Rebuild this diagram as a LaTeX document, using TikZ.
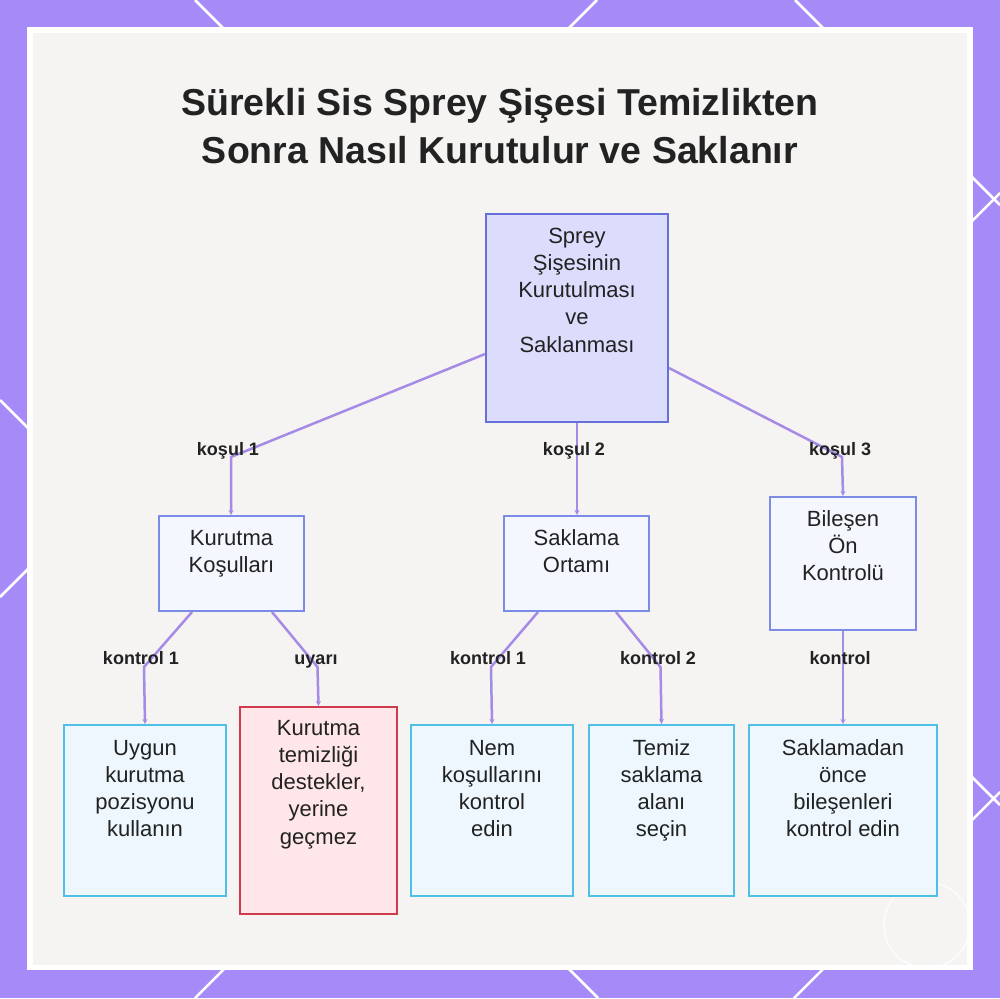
\documentclass[tikz,border=0pt]{standalone}
\usepackage{fontspec}
\setmainfont{Liberation Sans}
\usetikzlibrary{arrows.meta}
\definecolor{bgpurple}{HTML}{A68BF8}
\definecolor{panel}{HTML}{F5F4F3}
\definecolor{rootfill}{HTML}{DCDDFC}
\definecolor{rootdraw}{HTML}{6670D8}
\definecolor{midfill}{HTML}{F5F7FF}
\definecolor{middraw}{HTML}{7C8CE6}
\definecolor{leaffill}{HTML}{EDF7FD}
\definecolor{leafdraw}{HTML}{4EC0E6}
\definecolor{warnfill}{HTML}{FFE6E9}
\definecolor{warndraw}{HTML}{D03A4F}
\definecolor{conncol}{HTML}{A68BE6}
\definecolor{ink}{HTML}{222222}
\tikzset{
 box/.style={draw, line width=2pt, inner sep=0pt, anchor=north west},
 rootbox/.style={box, fill=rootfill, draw=rootdraw},
 midbox/.style={box, fill=midfill, draw=middraw},
 leafbox/.style={box, fill=leaffill, draw=leafdraw},
 warnbox/.style={box, fill=warnfill, draw=warndraw},
 boxtext/.style={anchor=base, align=center, font=\fontsize{22}{27.3}\selectfont, text=ink, inner sep=0pt},
 conn/.style={draw=conncol, line width=2.5pt, line join=round, -{Stealth[length=5pt,width=5pt]}},
 elabel/.style={font=\bfseries\fontsize{18}{22}\selectfont, text=ink, anchor=base, inner sep=0pt},
 deco/.style={white, line width=2.5pt},
 titletext/.style={font=\bfseries\fontsize{37.5}{48}\selectfont, align=center, anchor=base, text=ink, inner sep=0pt}
}
\begin{document}
\begin{tikzpicture}[x=1pt,y=-1pt]
\useasboundingbox (0,0) rectangle (1000,998);
\fill[bgpurple] (0,0) rectangle (1000,998);
\begin{scope}
\clip (0,0) rectangle (1000,998);
\draw[deco] (0,400) -- (598,998);
\draw[deco] (195,0) -- (1000,805);
\draw[deco] (795,0) -- (1000,205);
\draw[deco] (597,0) -- (0,597);
\draw[deco] (1000,193) -- (195,998);
\draw[deco] (1000,792) -- (794,998);
\end{scope}
\fill[white] (27,27) rectangle (973,970);
\fill[panel] (33,33) rectangle (967,965);
\draw[white, opacity=0.8, line width=1.5pt] (927,925) circle (43);

\node[titletext] (title) at (500,163) {Sürekli Sis Sprey Şişesi Temizlikten\\Sonra Nasıl Kurutulur ve Saklanır};

% boxes
\node[rootbox, minimum width=182, minimum height=208] (root) at (485,213) {};
\node[midbox, minimum width=145, minimum height=95] (kur) at (158,515) {};
\node[midbox, minimum width=145, minimum height=95] (sak) at (503,515) {};
\node[midbox, minimum width=146, minimum height=133] (bil) at (769,496) {};
\node[leafbox, minimum width=162, minimum height=171] (uyg) at (63,724) {};
\node[warnbox, minimum width=157, minimum height=207] (warn) at (239,706) {};
\node[leafbox, minimum width=162, minimum height=171] (nem) at (410,724) {};
\node[leafbox, minimum width=145, minimum height=171] (tem) at (588,724) {};
\node[leafbox, minimum width=188, minimum height=171] (skl) at (748,724) {};

% box texts (anchor = baseline of last line)
\node[boxtext] (roott) at ([yshift=-139.2pt]root.north) {Sprey\\Şişesinin\\Kurutulması\\ve\\Saklanması};
\node[boxtext] (kurt) at ([yshift=-57.3pt]kur.north) {Kurutma\\Koşulları};
\node[boxtext] (sakt) at ([yshift=-57.3pt]sak.north) {Saklama\\Ortamı};
\node[boxtext] (bilt) at ([yshift=-84.6pt]bil.north) {Bileşen\\Ön\\Kontrolü};
\node[boxtext] (uygt) at ([yshift=-112.9pt]uyg.north) {Uygun\\kurutma\\pozisyonu\\kullanın};
\node[boxtext] (warnt) at ([yshift=-138.2pt]warn.north) {Kurutma\\temizliği\\destekler,\\yerine\\geçmez};
\node[boxtext] (nemt) at ([yshift=-112.9pt]nem.north) {Nem\\koşullarını\\kontrol\\edin};
\node[boxtext] (temt) at ([yshift=-112.9pt]tem.north) {Temiz\\saklama\\alanı\\seçin};
\node[boxtext] (sklt) at ([yshift=-112.9pt]skl.north) {Saklamadan\\önce\\bileşenleri\\kontrol edin};

% connectors
\coordinate (b1) at (231,457);
\coordinate (b3) at (842,457);
\coordinate (c1) at (144,667);
\coordinate (c2) at (317.5,667);
\coordinate (c3) at (491,667);
\coordinate (c4) at (660.5,667);
\draw[conn] ([yshift=-36pt]root.west) -- (b1) -- (kur.north -| b1);
\draw[conn] (root.south) -- (sak.north -| root.south);
\draw[conn] ([yshift=-50pt]root.east) -- (b3) -- (bil.north);
\draw[conn] ([xshift=-39.5pt]kur.south) -- (c1) -- (uyg.north);
\draw[conn] ([xshift=40.5pt]kur.south) -- (c2) -- (warn.north);
\draw[conn] ([xshift=-38.5pt]sak.south) -- (c3) -- (nem.north);
\draw[conn] ([xshift=39.5pt]sak.south) -- (c4) -- (tem.north);
\draw[conn] (bil.south) -- (skl.north);

% edge labels
\node[elabel] (l1) at (228,455) {koşul 1};
\node[elabel] (l2) at (574,455) {koşul 2};
\node[elabel] (l3) at (840,455) {koşul 3};
\node[elabel] (l4) at (141,664) {kontrol 1};
\node[elabel] (l5) at (316,664) {uyarı};
\node[elabel] (l6) at (488,664) {kontrol 1};
\node[elabel] (l7) at (658,664) {kontrol 2};
\node[elabel] (l8) at (840,664) {kontrol};
\end{tikzpicture}
\end{document}
